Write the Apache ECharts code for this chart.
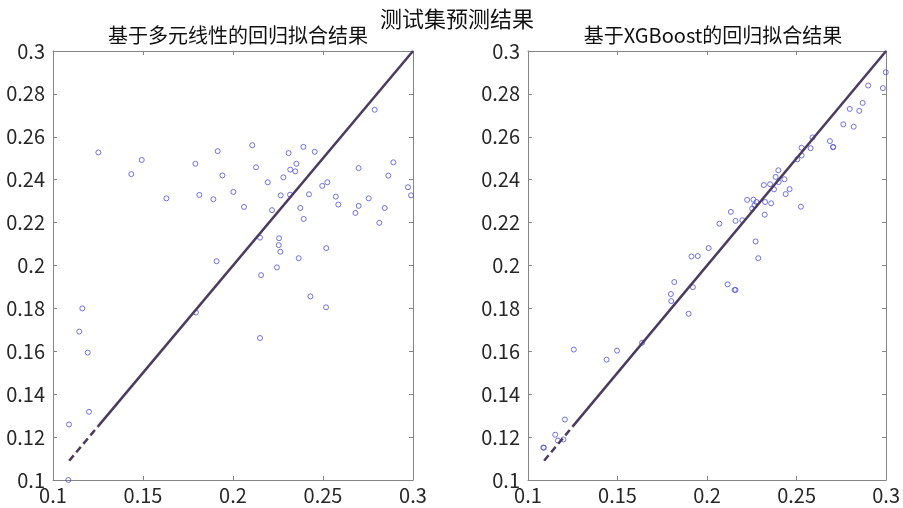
<!DOCTYPE html>
<html><head><meta charset="utf-8">
<script src="https://cdn.jsdelivr.net/npm/echarts@6/dist/echarts.min.js"></script>
<style>html,body{margin:0;padding:0;background:#fff}#c{width:903px;height:508px}</style>
</head><body><div id="c"></div>
<script>
var mainTitle = '测试集预测结果';
var leftTitle = '基于多元线性的回归拟合结果';
var rightTitle = '基于XGBoost的回归拟合结果';
var xTicks = [0.1, 0.15, 0.2, 0.25, 0.3];
var yTicks = [0.1, 0.12, 0.14, 0.16, 0.18, 0.2, 0.22, 0.24, 0.26, 0.28, 0.3];
// reference line y = x: dashed part then solid part
var refDashed = [0.109, 0.125];
var refSolid = [0.125, 0.3];

var linActual = [0.1085,0.1089,0.1163,0.1146,0.1193,0.1200,0.1252,0.1435,0.1493,0.1630,0.1791,0.1794,0.1813,0.1891,0.1915,0.1909,0.1941,0.2002,0.2061,0.2107,0.2128,0.2150,0.2156,0.2150,0.2193,0.2217,0.2256,0.2254,0.2263,0.2244,0.2265,0.2280,0.2309,0.2317,0.2318,0.2346,0.2352,0.2365,0.2374,0.2391,0.2393,0.2422,0.2430,0.2454,0.2496,0.2517,0.2518,0.2524,0.2571,0.2585,0.2680,0.2698,0.2698,0.2754,0.2787,0.2813,0.2843,0.2863,0.2891,0.2972,0.2989];
var linPred = [0.1000,0.1259,0.1800,0.1692,0.1594,0.1318,0.2527,0.2426,0.2492,0.2313,0.2474,0.1781,0.2329,0.2309,0.2533,0.2020,0.2420,0.2343,0.2273,0.2561,0.2458,0.2130,0.1955,0.1662,0.2388,0.2258,0.2127,0.2095,0.2064,0.1991,0.2327,0.2411,0.2524,0.2330,0.2447,0.2439,0.2474,0.2034,0.2268,0.2553,0.2217,0.2332,0.1856,0.2530,0.2371,0.1805,0.2081,0.2388,0.2321,0.2284,0.2245,0.2454,0.2278,0.2313,0.2726,0.2199,0.2268,0.2419,0.2481,0.2365,0.2327];

var xgbActual = [0.1085,0.1089,0.1152,0.1167,0.1198,0.1206,0.1256,0.1439,0.1497,0.1637,0.1798,0.1800,0.1817,0.1897,0.1921,0.1913,0.1948,0.2009,0.2069,0.2115,0.2133,0.2154,0.2159,0.2159,0.2197,0.2224,0.2259,0.2252,0.2265,0.2276,0.2324,0.2358,0.2322,0.2271,0.2286,0.2317,0.2352,0.2374,0.2383,0.2398,0.2400,0.2432,0.2439,0.2461,0.2524,0.2504,0.2528,0.2528,0.2578,0.2589,0.2686,0.2704,0.2704,0.2761,0.2819,0.2797,0.2850,0.2869,0.2900,0.2982,0.2998];
var xgbPred = [0.1151,0.1151,0.1211,0.1184,0.1189,0.1282,0.1608,0.1561,0.1603,0.1640,0.1867,0.1834,0.1923,0.1775,0.1899,0.2042,0.2044,0.2081,0.2195,0.1912,0.2250,0.1886,0.1886,0.2208,0.2211,0.2306,0.2307,0.2265,0.2281,0.2296,0.2296,0.2290,0.2237,0.2112,0.2034,0.2375,0.2379,0.2355,0.2413,0.2444,0.2389,0.2402,0.2333,0.2356,0.2274,0.2495,0.2513,0.2549,0.2547,0.2597,0.2580,0.2551,0.2553,0.2658,0.2647,0.2730,0.2721,0.2758,0.2839,0.2827,0.2901];

function pairs(a, b) { return a.map(function (v, i) { return [v, b[i]]; }); }
function fmt(v) { return String(parseFloat(v.toFixed(2))); }

var FONT = '"Noto Sans CJK SC", "Noto Sans", sans-serif';
var axisColor = '#858585';
var grids = [
  {left: 53, top: 51, width: 360, height: 429},
  {left: 528, top: 51, width: 361, height: 429}
];

var xAxes = [], yAxes = [], series = [];
[0, 1].forEach(function (g) {
  var base = {type: 'value', gridIndex: g, min: 0.1, max: 0.3, interval: 0.05,
    axisLine: {show: true, onZero: false, lineStyle: {color: axisColor, width: 1}},
    axisTick: {show: true, inside: true, length: 4, lineStyle: {color: axisColor}},
    splitLine: {show: false}};
  xAxes.push(Object.assign({}, base, {position: 'bottom',
    axisLabel: {show: true, color: '#262626', fontSize: 20, fontFamily: FONT, margin: 5,
      formatter: function (v) { return fmt(v); }}}));
  xAxes.push(Object.assign({}, base, {position: 'top', axisLabel: {show: false}}));
  var ybase = Object.assign({}, base, {interval: 0.02});
  yAxes.push(Object.assign({}, ybase, {position: 'left',
    axisLabel: {show: true, color: '#262626', fontSize: 20, fontFamily: FONT, margin: 8,
      formatter: function (v) { return fmt(v); }}}));
  yAxes.push(Object.assign({}, ybase, {position: 'right', axisLabel: {show: false}}));
});

var lineColor = '#4b3b5e';
var sets = [[linActual, linPred], [xgbActual, xgbPred]];
[0, 1].forEach(function (g) {
  series.push({type: 'line', xAxisIndex: 2 * g, yAxisIndex: 2 * g, silent: true,
    data: pairs(refDashed, refDashed), symbol: 'none',
    lineStyle: {color: lineColor, width: 2.5, type: [7, 4]}});
  series.push({type: 'line', xAxisIndex: 2 * g, yAxisIndex: 2 * g, silent: true,
    data: pairs(refSolid, refSolid), symbol: 'none',
    lineStyle: {color: lineColor, width: 2.5}});
  series.push({type: 'scatter', xAxisIndex: 2 * g, yAxisIndex: 2 * g,
    data: pairs(sets[g][0], sets[g][1]), symbol: 'circle', symbolSize: 5,
    itemStyle: {color: 'rgba(0,0,0,0)', borderColor: '#4f4fe0', borderWidth: 1}});
});

var chart = echarts.init(document.getElementById('c'), null, {renderer: 'canvas'});
chart.setOption({
  animation: false,
  backgroundColor: '#fff',
  title: [
    {text: mainTitle, left: 452, top: 3, textAlign: 'center',
      textStyle: {fontSize: 22, fontWeight: 'normal', color: '#111', fontFamily: FONT}},
    {text: leftTitle, left: 233, top: 20, textAlign: 'center',
      textStyle: {fontSize: 20, fontWeight: 'normal', color: '#111', fontFamily: FONT}},
    {text: rightTitle, left: 708, top: 20, textAlign: 'center',
      textStyle: {fontSize: 20, fontWeight: 'normal', color: '#111', fontFamily: FONT}}
  ],
  grid: grids,
  xAxis: xAxes,
  yAxis: yAxes,
  series: series
});
</script></body></html>
